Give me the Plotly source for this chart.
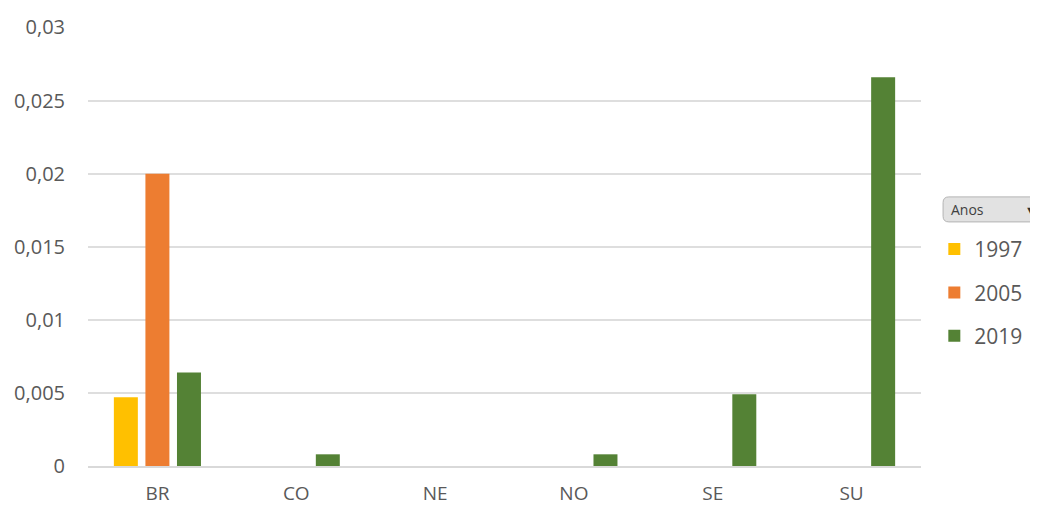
import plotly.graph_objects as go

categories = ["BR", "CO", "NE", "NO", "SE", "SU"]
s1997 = [0.0047, 0, 0, 0, 0, 0]
s2005 = [0.0200, 0, 0, 0, 0, 0]
s2019 = [0.0064, 0.0008, 0, 0.0008, 0.0049, 0.0266]
series_names = ["1997", "2005", "2019"]
colors = ["#FFC000", "#ED7D31", "#548235"]
ytick_vals = [0, 0.005, 0.01, 0.015, 0.02, 0.025, 0.03]
legend_title = "Anos"

fig = go.Figure()
for name, vals, c in zip(series_names, [s1997, s2005, s2019], colors):
    fig.add_trace(go.Bar(x=categories, y=vals, name=name, marker_color=c,
                         marker_line_width=0, legendgroup=name))

font_fam = "Open Sans, Liberation Sans, sans-serif"
# page body has an 8px default margin: size the figure to the visible area
fig.update_layout(
    width=1030, height=497,
    margin=dict(l=80, r=117, t=19, b=39, autoexpand=False),
    paper_bgcolor="white", plot_bgcolor="white",
    separators=",.",
    barmode="group", bargap=0.318, bargroupgap=0.24,
    font=dict(family=font_fam, size=20, color="#595959"),
    showlegend=True,
    legend=dict(x=1.016, y=0.54, xanchor="left", yanchor="top",
                traceorder="grouped", tracegroupgap=13,
                font=dict(size=21, color="#595959"), itemwidth=30),
    xaxis=dict(showgrid=False, showline=True, linecolor="#d9d9d9", linewidth=1.5,
               ticks="", ticklabelstandoff=9, tickfont=dict(size=19),
               automargin=False),
    yaxis=dict(range=[0, 0.03003], tickvals=ytick_vals, showgrid=True,
               gridcolor="#dedede", gridwidth=1.5, zeroline=False, showline=False,
               ticks="", ticklabelstandoff=22, tickfont=dict(size=20),
               automargin=False),
    shapes=[dict(type="path", xref="paper", yref="paper",
                 path="M 1.0335,0.556 L 1.16,0.556 L 1.16,0.613 L 1.0335,0.613 "
                      "Q 1.0265,0.613 1.0265,0.600 L 1.0265,0.569 "
                      "Q 1.0265,0.556 1.0335,0.556 Z",
                 fillcolor="#e2e2e2", line=dict(color="#b4b4b4", width=1),
                 layer="above")],
    annotations=[
        dict(xref="paper", yref="paper", x=1.034, y=0.5845,
             xanchor="left", yanchor="middle", text=legend_title,
             showarrow=False, font=dict(size=14, color="#404040")),
        dict(xref="paper", yref="paper", x=1.131, y=0.5845,
             xanchor="center", yanchor="middle", text="▼",
             showarrow=False, font=dict(size=11, color="#303030")),
    ],
)
fig.write_html("out.html")
